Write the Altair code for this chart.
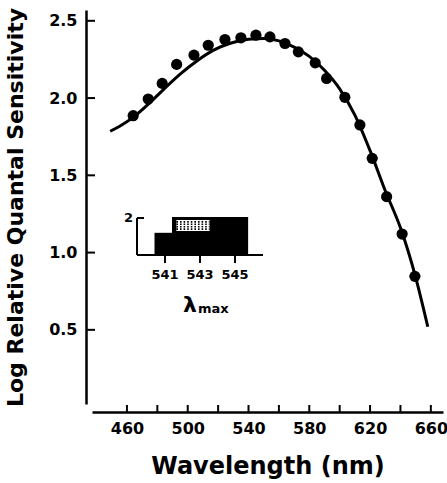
import altair as alt
import pandas as pd

# ---- main spectral sensitivity data ----
dot_nm = [464.1, 474.0, 483.2, 492.7, 504.1, 513.5, 524.5, 535.0, 544.9, 554.1,
          564.0, 572.8, 583.9, 591.4, 603.4, 613.3, 621.4, 630.9, 641.1, 649.5]
dot_v = [1.886, 1.994, 2.095, 2.218, 2.278, 2.342, 2.379, 2.390, 2.407, 2.396,
         2.353, 2.299, 2.228, 2.127, 2.005, 1.826, 1.610, 1.362, 1.120, 0.846]

curve_nm = [449, 456, 464, 474, 484, 495, 506, 517, 528, 540, 550,
            560, 570, 580, 590, 600, 610, 620, 630, 640, 650, 658]
curve_v = [1.785, 1.822, 1.875, 1.96, 2.055, 2.155, 2.24, 2.31, 2.355, 2.38, 2.385,
           2.37, 2.33, 2.27, 2.18, 2.06, 1.89, 1.66, 1.40, 1.16, 0.84, 0.52]

x_tick_values = [460, 480, 500, 520, 540, 560, 580, 600, 620, 640, 660]
x_label_values = [460, 500, 540, 580, 620, 660]
y_tick_values = [0.5, 1.0, 1.5, 2.0, 2.5]

# ---- inset histogram of lambda-max ----
hist_lo = [540.4, 541.4]
hist_hi = [541.4, 545.75]
hist_count = [1.2, 2.05]
stipple_lo, stipple_hi = [541.65], [543.55]
stipple_bottom, stipple_top = [1.30], [1.89]
stipple_rows = [1.40, 1.53, 1.66, 1.79]
inset_tick_values = [541, 543, 545]
inset_x_extent = [539.4, 546.6]
inset_y_extent = [0, 2]

W, H = 351, 394
FONT = "DejaVu Sans"

x_scale = alt.Scale(domain=[437, 668], nice=False, zero=False)
y_scale = alt.Scale(domain=[0.02, 2.57], nice=False, zero=False)

x_axis = alt.Axis(values=x_label_values, format="d", ticks=False, grid=False,
                  domainColor="black", domainWidth=2.5, offset=8,
                  labelPadding=8, labelFont=FONT, labelFontSize=16,
                  labelFontWeight="bold", labelColor="black",
                  title="Wavelength (nm)", titleFont=FONT, titleFontSize=24,
                  titleFontWeight="bold", titleColor="black", titlePadding=18)
y_axis = alt.Axis(values=y_tick_values, format=".1f", ticks=False, grid=False,
                  domainColor="black", domainWidth=2.5, offset=6,
                  labelPadding=9, labelFont=FONT, labelFontSize=16,
                  labelFontWeight="bold", labelColor="black",
                  title="Log Relative Quantal Sensitivity", titleFont=FONT,
                  titleFontSize=22, titleFontWeight="bold", titleColor="black",
                  titlePadding=21)

curve_df = pd.DataFrame({"nm": curve_nm, "v": curve_v})
dots_df = pd.DataFrame({"nm": dot_nm, "v": dot_v})

curve = alt.Chart(curve_df).mark_line(color="black", strokeWidth=3,
                                      interpolate="monotone").encode(
    x=alt.X("nm:Q", scale=x_scale, axis=x_axis),
    y=alt.Y("v:Q", scale=y_scale, axis=y_axis),
)
dots = alt.Chart(dots_df).mark_circle(color="black", size=125, opacity=1).encode(
    x=alt.X("nm:Q", scale=x_scale),
    y=alt.Y("v:Q", scale=y_scale),
)
yticks = alt.Chart(pd.DataFrame({"v": y_tick_values})).mark_rule(
    color="black", strokeWidth=2).encode(
    y=alt.Y("v:Q", scale=y_scale), x=alt.value(-6), x2=alt.value(3))
xticks = alt.Chart(pd.DataFrame({"nm": x_tick_values})).mark_rule(
    color="black", strokeWidth=2).encode(
    x=alt.X("nm:Q", scale=x_scale), y=alt.value(H + 8), y2=alt.value(H + 1))

main = alt.layer(curve, dots, yticks, xticks)

# ---- inset ----
ix = alt.Scale(domain=inset_x_extent, range=[45, 171], nice=False, zero=False)
iy = alt.Scale(domain=inset_y_extent, range=[245, 208], nice=False, zero=False)

hist_df = pd.DataFrame({"lo": hist_lo, "hi": hist_hi, "count": hist_count,
                        "base": [0] * len(hist_lo)})
bars = alt.Chart(hist_df).mark_rect(color="black").encode(
    x=alt.X("lo:Q", scale=ix, axis=None), x2="hi:Q",
    y=alt.Y("base:Q", scale=iy, axis=None), y2="count:Q")

st_df = pd.DataFrame({"lo": stipple_lo, "hi": stipple_hi,
                      "b": stipple_bottom, "t": stipple_top})
stip_box = alt.Chart(st_df).mark_rect(color="white").encode(
    x=alt.X("lo:Q", scale=ix, axis=None), x2="hi:Q",
    y=alt.Y("b:Q", scale=iy, axis=None), y2="t:Q")
rows_df = pd.DataFrame({"row": stipple_rows, "lo": stipple_lo * len(stipple_rows),
                        "hi": stipple_hi * len(stipple_rows)})
stip_rows = alt.Chart(rows_df).mark_rule(color="black", strokeWidth=1.6,
                                         strokeDash=[1.6, 2]).encode(
    x=alt.X("lo:Q", scale=ix, axis=None), x2="hi:Q",
    y=alt.Y("row:Q", scale=iy, axis=None))

ax_df = pd.DataFrame({"x0": [inset_x_extent[0]], "x1": [inset_x_extent[1]],
                      "y0": [inset_y_extent[0]], "y1": [inset_y_extent[1]]})
inset_vline = alt.Chart(ax_df).mark_rule(color="black", strokeWidth=2).encode(
    x=alt.X("x0:Q", scale=ix, axis=None),
    y=alt.Y("y0:Q", scale=iy, axis=None), y2="y1:Q")
inset_base = alt.Chart(ax_df).mark_rule(color="black", strokeWidth=2).encode(
    x=alt.X("x0:Q", scale=ix, axis=None), x2="x1:Q",
    y=alt.Y("y0:Q", scale=iy, axis=None))
inset_toptick = alt.Chart(ax_df).mark_rule(color="black", strokeWidth=2).encode(
    x=alt.X("x0:Q", scale=ix, axis=None), x2=alt.value(52),
    y=alt.Y("y1:Q", scale=iy, axis=None))
inset_two = alt.Chart(ax_df).mark_text(
    text="2", font=FONT, fontSize=13, fontWeight="bold", align="right",
    baseline="middle", dx=-4, color="black").encode(
    x=alt.X("x0:Q", scale=ix, axis=None), y=alt.Y("y1:Q", scale=iy, axis=None))

it_df = pd.DataFrame({"t": inset_tick_values,
                      "lab": [str(v) for v in inset_tick_values]})
inset_ticks = alt.Chart(it_df).mark_rule(color="black", strokeWidth=2).encode(
    x=alt.X("t:Q", scale=ix, axis=None), y=alt.value(245), y2=alt.value(253))
inset_labels = alt.Chart(it_df).mark_text(
    font=FONT, fontSize=13, fontWeight="bold", baseline="middle",
    align="center", color="black").encode(
    x=alt.X("t:Q", scale=ix, axis=None), y=alt.value(265), text="lab:N")

lam_df = pd.DataFrame({"s": ["λ"], "sub": ["max"]})
lam = alt.Chart(lam_df).mark_text(
    font=FONT, fontSize=22, fontWeight="bold", align="center",
    baseline="alphabetic", color="black").encode(
    x=alt.value(98), y=alt.value(302), text="s:N")
lam_sub = alt.Chart(lam_df).mark_text(
    font=FONT, fontSize=13, fontWeight="bold", align="left",
    baseline="alphabetic", color="black").encode(
    x=alt.value(106), y=alt.value(303), text="sub:N")

inset = alt.layer(bars, stip_box, stip_rows, inset_vline, inset_base,
                  inset_toptick, inset_two, inset_ticks, inset_labels,
                  lam, lam_sub)

chart = alt.layer(main, inset).resolve_scale(
    x="independent", y="independent"
).properties(
    width=W, height=H,
    padding={"left": 92, "top": 10, "right": 4, "bottom": 79},
    autosize="none", background="white"
).configure_view(stroke=None)

chart.save("out.html", embed_options={"renderer": "svg", "actions": False})
